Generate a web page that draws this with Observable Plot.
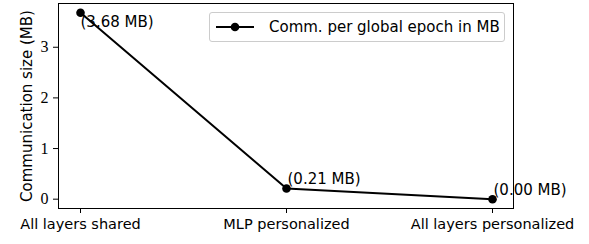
<!DOCTYPE html>
<html>
<head>
<meta charset="utf-8">
<script src="https://cdn.jsdelivr.net/npm/d3@7"></script>
<script src="https://cdn.jsdelivr.net/npm/@observablehq/plot@0.6"></script>
<style>
  html, body { margin: 0; padding: 0; background: white; }
  #wrap { position: relative; width: 589px; height: 244px; }
  #legend {
    position: absolute; left: 209px; top: 12px; width: 294px; height: 28px;
    border: 1px solid #cccccc; border-radius: 3px; background: white;
    font-family: "DejaVu Sans", sans-serif; font-size: 15px; color: black;
    display: flex; align-items: center;
  }
  #legend svg { margin-left: 5px; margin-right: 14px; }
</style>
</head>
<body>
<div id="wrap"></div>
<script>
const categories = ["All layers shared", "MLP personalized", "All layers personalized"];
const values = [3.68, 0.21, 0.00];
const labels = ["(3.68 MB)", "(0.21 MB)", "(0.00 MB)"];
const yTicks = [0, 1, 2, 3];
const seriesName = "Comm. per global epoch in MB";
const yLabel = "Communication size (MB)";

const data = categories.map((c, i) => ({c, v: values[i], label: labels[i], i}));

const chart = Plot.plot({
  width: 589,
  height: 244,
  marginLeft: 58,
  marginRight: 76,
  marginTop: 3,
  marginBottom: 36,
  x: {type: "point", domain: categories, padding: 0.1},
  y: {domain: [-0.184, 3.864]},
  style: {fontFamily: "DejaVu Sans", fontSize: "14.5px", color: "black", background: "white", overflow: "visible"},
  marks: [
    Plot.axisY({ticks: yTicks, tickFormat: d3.format("d"), tickSize: 5, tickPadding: 5, fontFamily: "Liberation Serif", fontSize: 16, label: null, stroke: "black"}),
    Plot.axisX({tickSize: 5, tickPadding: 5, label: null, stroke: "black"}),
    Plot.text([yLabel], {frameAnchor: "left", rotate: -90, dx: -31, textAnchor: "middle", lineAnchor: "middle", fontSize: 15, fill: "black"}),
    Plot.line(data, {x: "c", y: "v", stroke: "black", strokeWidth: 2}),
    Plot.dot(data, {x: "c", y: "v", r: 4.3, fill: "black", stroke: "none"}),
    Plot.text(data.filter(d => d.i === 0), {x: "c", y: "v", text: "label", textAnchor: "start", lineAnchor: "middle", dx: 0, dy: 9, fontSize: 15, fill: "black"}),
    Plot.text(data.filter(d => d.i > 0), {x: "c", y: "v", text: "label", textAnchor: "start", lineAnchor: "middle", dx: 1, dy: -9, fontSize: 15, fill: "black"}),
    Plot.frame({stroke: "black", strokeWidth: 1})
  ]
});

const wrap = document.getElementById("wrap");
wrap.appendChild(chart);

const legend = document.createElement("div");
legend.id = "legend";
legend.innerHTML = `<svg width="40" height="12"><line x1="1" y1="6" x2="39" y2="6" stroke="black" stroke-width="2"/><circle cx="20" cy="6" r="4.3" fill="black"/></svg><span></span>`;
legend.querySelector("span").textContent = seriesName;
wrap.appendChild(legend);
</script>
</body>
</html>
